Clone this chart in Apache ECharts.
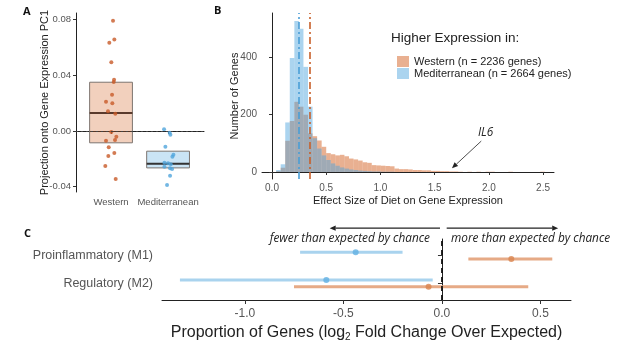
<!DOCTYPE html>
<html>
<head>
<meta charset="utf-8">
<script src="https://cdn.jsdelivr.net/npm/echarts@6/dist/echarts.min.js"></script>
<style>
  html, body { margin: 0; padding: 0; background: #fff; }
  #chart { width: 617px; height: 347px; }
</style>
</head>
<body>
<div id="chart"></div>
<script>
// ---- Panel A: projection onto gene expression PC1 ----
const groupsA = ['Western', 'Mediterranean'];
const boxA = [ // [position, lower, median, upper]
  [1, -0.0085, 0.0130, 0.0350],
  [2, -0.0265, -0.0235, -0.0145]
];
const westernPts = [ // [jittered position, value]
  [1.035, 0.0792], [0.970, 0.0634], [1.058, 0.0656], [1.005, 0.0493],
  [1.053, 0.0368], [1.047, 0.0352], [1.018, 0.0261], [0.912, 0.0210],
  [1.023, 0.0199], [0.947, 0.0141], [1.075, 0.0124], [1.005, -0.0007],
  [1.093, -0.0041], [1.070, -0.0065], [0.912, -0.0070], [0.960, -0.0117],
  [0.953, -0.0180], [1.058, -0.0158], [0.900, -0.0251], [1.082, -0.0345]
];
const medPts = [
  [1.930, 0.0012], [2.029, -0.0012], [2.041, -0.0027], [1.953, -0.0113],
  [2.094, -0.0170], [2.076, -0.0185], [1.936, -0.0228], [2.000, -0.0232],
  [2.047, -0.0239], [1.936, -0.0256], [2.035, -0.0268], [2.070, -0.0273],
  [2.035, -0.0321], [1.982, -0.0388]
];
const ticksA = [-0.04, 0, 0.04, 0.08];

// ---- Panel B: histogram of effect sizes ----
const binStart = 0.038;
const binWidth = 0.042;
const westernCounts = [
  3, 15, 109, 178, 245, 228, 200, 135, 125, 110,
  88, 66, 62, 58, 60, 55, 47, 44, 40, 34,
  32, 24, 23, 22, 21, 20, 12, 10, 10, 9,
  7, 7, 6, 6, 4, 4, 3, 3, 2, 2,
  1, 0, 1, 0, 1, 0, 1, 1, 0, 0,
  0, 1, 0, 0, 0, 0, 0, 0, 1
];
const medCounts = [
  7, 27, 173, 398, 527, 500, 367, 228, 118, 82,
  58, 42, 30, 22, 16, 12, 9, 7, 5, 4,
  3, 2, 2, 1, 1, 1
];
const meanWestern = 0.35;
const meanMed = 0.252;
const ticksBx = [0, 0.5, 1, 1.5, 2, 2.5];
const ticksBy = [0, 200, 400];
const nameWestern = 'Western (n = 2236 genes)';
const nameMed = 'Mediterranean (n = 2664 genes)';

// ---- Panel C: enrichment in macrophage gene sets ----
const cRows = ['Proinflammatory (M1)', 'Regulatory (M2)'];
const cRowPos = [2, 1];
const medEst = [-0.438, -0.587];
const medLo = [-0.72, -1.33];
const medHi = [-0.20, -0.047];
const wesEst = [0.352, -0.068];
const wesLo = [0.134, -0.751];
const wesHi = [0.56, 0.438];
const ticksC = [-1, -0.5, 0, 0.5];

const orangeFill = 'rgba(212,98,35,0.5)';
const blueFill = 'rgba(80,165,222,0.48)';

const toBins = counts => counts
  .map((c, i) => [binStart + i * binWidth, binStart + (i + 1) * binWidth, c])
  .filter(d => d[2] > 0);

const histItem = (params, api) => {
  const tl = api.coord([api.value(0), api.value(2)]);
  const br = api.coord([api.value(1), 0]);
  return {
    type: 'rect',
    shape: { x: tl[0], y: tl[1], width: br[0] - tl[0], height: br[1] - tl[1] },
    style: { fill: api.visual('color') }
  };
};

const boxFills = ['rgba(212,98,35,0.3)', 'rgba(80,165,222,0.3)'];
const boxMedians = ['#5a3a2c', '#333333'];
const boxItem = (params, api) => {
  const pos = api.value(0);
  const a = api.coord([pos - 0.375, api.value(3)]);
  const b = api.coord([pos + 0.375, api.value(1)]);
  const m = api.coord([pos, api.value(2)]);
  return {
    type: 'group',
    children: [
      { type: 'rect', shape: { x: a[0], y: a[1], width: b[0] - a[0], height: b[1] - a[1] },
        style: { fill: boxFills[params.dataIndex], stroke: '#7d7570', lineWidth: 1 } },
      { type: 'line', shape: { x1: a[0], y1: m[1], x2: b[0], y2: m[1] },
        style: { stroke: boxMedians[params.dataIndex], lineWidth: 2 } }
    ]
  };
};

const barItem = (params, api) => {
  const y = api.value(2);
  const p0 = api.coord([api.value(0), y]);
  const p1 = api.coord([api.value(1), y]);
  return {
    type: 'line',
    shape: { x1: p0[0], y1: p0[1], x2: p1[0], y2: p1[1] },
    style: { stroke: api.visual('color'), lineWidth: 3 }
  };
};

const dodge = 0.125;
const medBars = cRows.map((r, i) => [medLo[i], medHi[i], cRowPos[i] + dodge]);
const wesBars = cRows.map((r, i) => [wesLo[i], wesHi[i], cRowPos[i] - dodge]);
const medDots = cRows.map((r, i) => [medEst[i], cRowPos[i] + dodge]);
const wesDots = cRows.map((r, i) => [wesEst[i], cRowPos[i] - dodge]);

const axisLine = { show: true, lineStyle: { color: '#222', width: 1 } };
const tickStyle = { color: '#333', width: 1 };

const option = {
  animation: false,
  textStyle: { fontFamily: 'Liberation Sans' },
  grid: [
    { left: 76, top: 13, width: 128, height: 179 },
    { left: 262, top: 13, width: 292, height: 166 },
    { left: 162, top: 239, width: 409, height: 61 }
  ],
  legend: {
    data: [nameWestern, nameMed],
    orient: 'vertical',
    left: 392, top: 51,
    itemWidth: 12, itemHeight: 11, itemGap: 1,
    icon: 'rect',
    textStyle: { fontSize: 11, color: '#222', fontFamily: 'Liberation Sans' }
  },
  xAxis: [
    { gridIndex: 0, type: 'value', min: 0.386, max: 2.63,
      axisLine, splitLine: { show: false },
      axisTick: { customValues: [1, 2], length: 3, lineStyle: tickStyle },
      axisLabel: { customValues: [1, 2], formatter: v => groupsA[Math.round(v) - 1],
        fontSize: 9.5, color: '#555', margin: 5 } },
    { gridIndex: 1, type: 'value', min: -0.0923, max: 2.601,
      axisLine, splitLine: { show: false },
      axisTick: { customValues: ticksBx, length: 3, lineStyle: tickStyle },
      axisLabel: { customValues: ticksBx, formatter: v => v.toFixed(1),
        fontSize: 10, color: '#555', margin: 4 },
      name: 'Effect Size of Diet on Gene Expression', nameLocation: 'middle', nameGap: 16,
      nameMoveOverlap: false,
      nameTextStyle: { fontSize: 11, color: '#222' } },
    { gridIndex: 2, type: 'value', min: -1.421, max: 0.655,
      axisLine, splitLine: { show: false },
      axisTick: { customValues: ticksC, length: 4, lineStyle: tickStyle },
      axisLabel: { customValues: ticksC, formatter: v => v.toFixed(1),
        fontSize: 12, color: '#555', margin: 8 },
      name: 'Proportion of Genes (log{sub|2} Fold Change Over Expected)',
      nameLocation: 'middle', nameGap: 23, nameMoveOverlap: false,
      nameTextStyle: { fontSize: 16, color: '#222',
        rich: { sub: { fontSize: 10, color: '#222', padding: [9, 0, 0, 0] } } } }
  ],
  yAxis: [
    { gridIndex: 0, type: 'value', min: -0.0438, max: 0.0847,
      axisLine, splitLine: { show: false },
      axisTick: { customValues: ticksA, length: 3, lineStyle: tickStyle },
      axisLabel: { customValues: ticksA, formatter: v => v.toFixed(2),
        fontSize: 9.5, color: '#555', margin: 5 },
      name: 'Projection onto Gene Expression PC1', nameLocation: 'middle', nameGap: 26,
      nameMoveOverlap: false,
      nameTextStyle: { fontSize: 11, color: '#222' } },
    { gridIndex: 1, type: 'value', min: -24.4, max: 555,
      axisLine, splitLine: { show: false },
      axisTick: { customValues: ticksBy, length: 3, lineStyle: tickStyle },
      axisLabel: { customValues: ticksBy, fontSize: 10, color: '#555', margin: 5 },
      name: 'Number of Genes', nameLocation: 'middle', nameGap: 22,
      nameMoveOverlap: false,
      nameTextStyle: { fontSize: 11, color: '#222' } },
    { gridIndex: 2, type: 'value', min: 0.4, max: 2.6,
      axisLine, splitLine: { show: false },
      axisTick: { customValues: cRowPos, length: 4, lineStyle: tickStyle },
      axisLabel: { customValues: cRowPos, formatter: v => cRows[cRowPos.indexOf(Math.round(v))],
        fontSize: 12.5, color: '#555', margin: 9 } }
  ],
  series: [
    // Panel A
    { type: 'custom', name: 'boxA', xAxisIndex: 0, yAxisIndex: 0,
      data: boxA, renderItem: boxItem, encode: { x: 0, y: [1, 2, 3] }, silent: true },
    { type: 'scatter', name: 'Western pts', xAxisIndex: 0, yAxisIndex: 0,
      data: westernPts, symbolSize: 4, itemStyle: { color: '#c85a28' }, silent: true,
      markLine: { silent: true, symbol: 'none', label: { show: false },
        lineStyle: { color: '#444', type: [2, 3], width: 1.2 },
        data: [{ yAxis: 0 }] } },
    { type: 'scatter', name: 'Mediterranean pts', xAxisIndex: 0, yAxisIndex: 0,
      data: medPts, symbolSize: 4, itemStyle: { color: '#50a5dc' }, silent: true },
    // Panel B
    { type: 'custom', name: nameWestern, xAxisIndex: 1, yAxisIndex: 1,
      data: toBins(westernCounts), renderItem: histItem, encode: { x: [0, 1], y: 2 },
      itemStyle: { color: orangeFill }, silent: true },
    { type: 'custom', name: nameMed, xAxisIndex: 1, yAxisIndex: 1,
      data: toBins(medCounts), renderItem: histItem, encode: { x: [0, 1], y: 2 },
      itemStyle: { color: blueFill }, silent: true,
      markLine: { silent: true, symbol: 'none', label: { show: false },
        lineStyle: { type: [7, 3, 2, 3], width: 1.6 },
        data: [
          { xAxis: meanMed, lineStyle: { color: '#4a9ed6' } },
          { xAxis: meanWestern, lineStyle: { color: '#c8602a' } }
        ] } },
    // Panel C
    { type: 'custom', name: 'medBars', xAxisIndex: 2, yAxisIndex: 2,
      data: medBars, renderItem: barItem, encode: { x: [0, 1], y: 2 },
      itemStyle: { color: '#a9d3ee' }, silent: true,
      markLine: { silent: true, symbol: 'none', label: { show: false },
        lineStyle: { color: '#111', type: [5, 4], width: 1.8 },
        data: [{ xAxis: 0 }] } },
    { type: 'custom', name: 'wesBars', xAxisIndex: 2, yAxisIndex: 2,
      data: wesBars, renderItem: barItem, encode: { x: [0, 1], y: 2 },
      itemStyle: { color: '#e6aa86' }, silent: true },
    { type: 'scatter', name: 'medDots', xAxisIndex: 2, yAxisIndex: 2,
      data: medDots, symbolSize: 6, itemStyle: { color: '#62b0e2' }, silent: true },
    { type: 'scatter', name: 'wesDots', xAxisIndex: 2, yAxisIndex: 2,
      data: wesDots, symbolSize: 6, itemStyle: { color: '#d9844f' }, silent: true }
  ]
};

const chart = echarts.init(document.getElementById('chart'));
chart.setOption(option);

// ---- annotations, positioned in data units and converted to pixels ----
const il6Arrow = [[1.93, 108], [1.66, 13]];
const il6Label = [1.97, 138];
const cArrowLeft = [[-0.01, 2.99], [-0.57, 2.99]];
const cArrowRight = [[0.024, 2.99], [0.59, 2.99]];
const cTextLeft = [-0.061, 2.6];
const cTextRight = [0.046, 2.6];

const px = (g, p) => chart.convertToPixel({ gridIndex: g }, p);

function arrow(from, to, w) {
  const ang = Math.atan2(to[1] - from[1], to[0] - from[0]);
  const L = 6, W = 2.6;
  const bx = to[0] - L * Math.cos(ang), by = to[1] - L * Math.sin(ang);
  return [
    { type: 'line', shape: { x1: from[0], y1: from[1], x2: bx, y2: by },
      style: { stroke: '#222', lineWidth: w } },
    { type: 'polygon', shape: { points: [to,
        [bx - W * Math.sin(ang), by + W * Math.cos(ang)],
        [bx + W * Math.sin(ang), by - W * Math.cos(ang)]] },
      style: { fill: '#222' } }
  ];
}

const italic = { fontFamily: 'Open Sans', fontStyle: 'italic', fontSize: 11.8, fill: '#222' };
const letter = { fontFamily: 'Open Sans', fontWeight: 'bold', fontSize: 11, fill: '#111' };
const il6 = px(1, il6Label);
const tl = px(2, cTextLeft);
const tr = px(2, cTextRight);

chart.setOption({
  graphic: { elements: [
    { type: 'text', left: 23, top: 6, style: Object.assign({ text: 'A' }, letter) },
    { type: 'text', left: 214, top: 5, style: Object.assign({ text: 'B' }, letter) },
    { type: 'text', left: 24, top: 228, style: Object.assign({ text: 'C' }, letter) },
    { type: 'text', left: 391, top: 31,
      style: { text: 'Higher Expression in:', fontFamily: 'Liberation Sans', fontSize: 13.5, fill: '#222' } },
    { type: 'text', x: il6[0], y: il6[1],
      style: Object.assign({ text: 'IL6', align: 'center', verticalAlign: 'middle' }, italic) },
    { type: 'text', x: tl[0], y: tl[1],
      style: Object.assign({ text: 'fewer than expected by chance', align: 'right', verticalAlign: 'middle' }, italic) },
    { type: 'text', x: tr[0], y: tr[1],
      style: Object.assign({ text: 'more than expected by chance', align: 'left', verticalAlign: 'middle' }, italic) },
    ...arrow(px(1, il6Arrow[0]), px(1, il6Arrow[1]), 0.8),
    ...arrow(px(2, cArrowLeft[0]), px(2, cArrowLeft[1]), 1.2),
    ...arrow(px(2, cArrowRight[0]), px(2, cArrowRight[1]), 1.2)
  ] }
});
</script>
</body>
</html>
